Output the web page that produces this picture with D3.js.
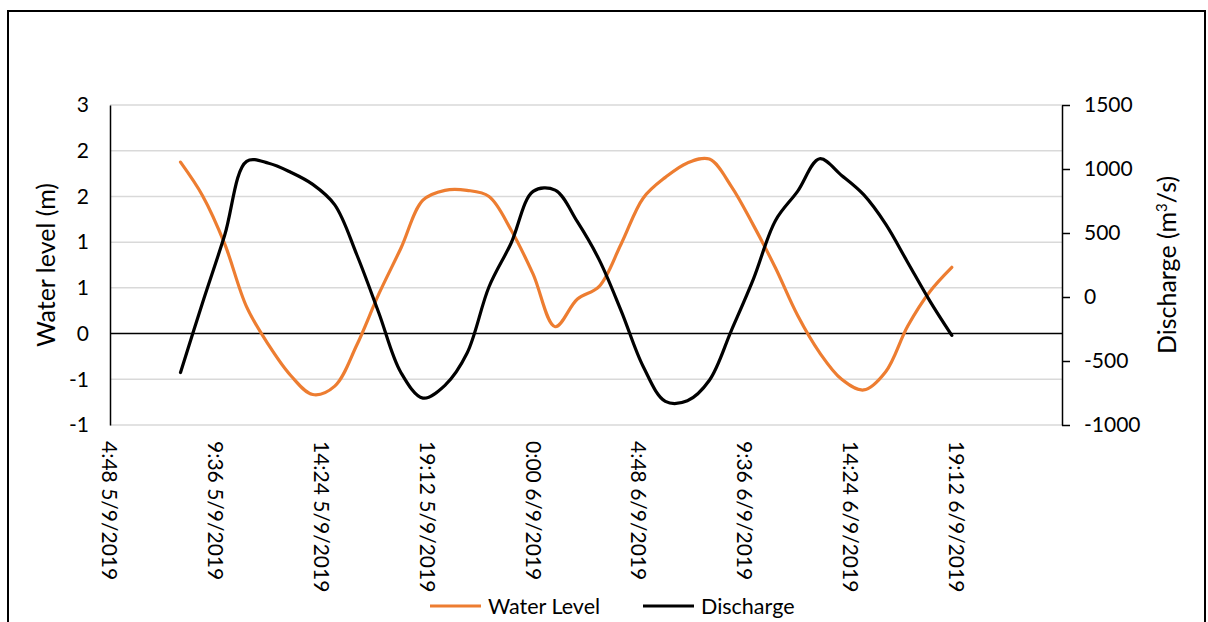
<!DOCTYPE html>
<html>
<head>
<meta charset="utf-8">
<script src="https://cdn.jsdelivr.net/npm/d3@7"></script>
<style>
  body { margin: 0; background: #fff; }
  svg text { font-family: Lato, "Open Sans", sans-serif; fill: #000; }
</style>
</head>
<body>
<svg id="chart" width="1208" height="622"></svg>
<script>
// hourly readings, 5/9/2019 08:00 to 6/9/2019 19:00
const times = [
    "05/09/2019 08:00", "05/09/2019 09:00", "05/09/2019 10:00", "05/09/2019 11:00",
    "05/09/2019 12:00", "05/09/2019 13:00", "05/09/2019 14:00", "05/09/2019 15:00",
    "05/09/2019 16:00", "05/09/2019 17:00", "05/09/2019 18:00", "05/09/2019 19:00",
    "05/09/2019 20:00", "05/09/2019 21:00", "05/09/2019 22:00", "05/09/2019 23:00",
    "06/09/2019 00:00", "06/09/2019 01:00", "06/09/2019 02:00", "06/09/2019 03:00",
    "06/09/2019 04:00", "06/09/2019 05:00", "06/09/2019 06:00", "06/09/2019 07:00",
    "06/09/2019 08:00", "06/09/2019 09:00", "06/09/2019 10:00", "06/09/2019 11:00",
    "06/09/2019 12:00", "06/09/2019 13:00", "06/09/2019 14:00", "06/09/2019 15:00",
    "06/09/2019 16:00", "06/09/2019 17:00", "06/09/2019 18:00", "06/09/2019 19:00"
];
const waterLevel = [
    2.25, 1.81, 1.18, 0.35, -0.15, -0.55, -0.80, -0.69,
    -0.15, 0.52, 1.12, 1.75, 1.88, 1.88, 1.80, 1.36,
    0.78, 0.09, 0.45, 0.62, 1.18, 1.78, 2.05, 2.24,
    2.29, 1.93, 1.42, 0.86, 0.24, -0.25, -0.60, -0.74,
    -0.50, 0.10, 0.55, 0.87
];
const discharge = [
    -590, -45, 480, 1060, 1045, 975, 880, 720,
    330, -125, -590, -790, -690, -440, 80, 420,
    825, 835, 590, 290, -110, -545, -815, -810,
    -650, -260, 142, 598, 825, 1080, 950, 800,
    570, 270, -30, -300
];

const xTickLabels = [
    "4:48 5/9/2019", "9:36 5/9/2019", "14:24 5/9/2019", "19:12 5/9/2019",
    "0:00 6/9/2019", "4:48 6/9/2019", "9:36 6/9/2019", "14:24 6/9/2019",
    "19:12 6/9/2019"
];
const xDomain = ["4:48 5/9/2019", "0:00 7/9/2019"];
const leftTicks = [-1.2, -0.6, 0, 0.6, 1.2, 1.8, 2.4, 3];
const rightTicks = [-1000, -500, 0, 500, 1000, 1500];

const ORANGE = "#ED7D31";
const GRID = "#d9d9d9";

// plot box
const plot = {left: 110, right: 1062, top: 105, bottom: 425};

const parseData = d3.timeParse("%d/%m/%Y %H:%M");
const parseTick = d3.timeParse("%H:%M %d/%m/%Y");

const data = times.map((t, i) => ({
    time: parseData(t),
    level: waterLevel[i],
    flow: discharge[i]
}));

// excel style "0" number format, plain hyphen for negatives
const fmtInt = function(d) {
    const r = Math.round(d);
    return r === 0 ? "0" : String(r);
};

const x = d3.scaleTime()
    .domain(xDomain.map(parseTick))
    .range([plot.left, plot.right]);
const yL = d3.scaleLinear().domain([-1.2, 3]).range([plot.bottom, plot.top]);
const yR = d3.scaleLinear().domain([-1000, 1500]).range([plot.bottom, plot.top]);

const svg = d3.select("#chart");

// outer frame
svg.append("rect")
    .attr("x", 8).attr("y", 11)
    .attr("width", 1197).attr("height", 640)
    .attr("fill", "none")
    .attr("stroke", "#000")
    .attr("stroke-width", 2);

// gridlines
svg.append("g")
    .selectAll("line")
    .data(leftTicks.filter(d => d !== 0))
    .enter()
    .append("line")
        .attr("x1", plot.left).attr("x2", plot.right)
        .attr("y1", d => yL(d)).attr("y2", d => yL(d))
        .attr("stroke", GRID)
        .attr("stroke-width", 1.5);

// left axis
const axisL = svg.append("g")
    .attr("transform", `translate(${plot.left},0)`)
    .call(d3.axisLeft(yL).tickValues(leftTicks).tickSize(0).tickPadding(21)
        .tickFormat(fmtInt));
axisL.select(".domain").attr("stroke", "#000").attr("stroke-width", 1.5);
axisL.selectAll("text").style("font-size", "21px");

// right axis
const axisR = svg.append("g")
    .attr("transform", `translate(${plot.right},0)`)
    .call(d3.axisRight(yR).tickValues(rightTicks).tickSize(8).tickSizeOuter(0)
        .tickPadding(14).tickFormat(fmtInt));
axisR.select(".domain").attr("stroke", "#000").attr("stroke-width", 1.5);
axisR.selectAll(".tick line").attr("stroke", "#000").attr("stroke-width", 1.5);
axisR.selectAll("text").style("font-size", "21px");

// horizontal axis at zero, labels low
svg.append("line")
    .attr("x1", plot.left).attr("x2", plot.right)
    .attr("y1", yL(0)).attr("y2", yL(0))
    .attr("stroke", "#000")
    .attr("stroke-width", 1.5);

svg.append("g")
    .selectAll("text")
    .data(xTickLabels)
    .enter()
    .append("text")
        .attr("transform", d => `translate(${x(parseTick(d))},441) rotate(90)`)
        .attr("dy", "0.36em")
        .style("font-size", "21px")
        .text(d => d);

// axis titles
svg.append("text")
    .attr("transform", `translate(46,${(plot.top + plot.bottom) / 2}) rotate(-90)`)
    .attr("text-anchor", "middle")
    .attr("dy", "0.36em")
    .style("font-size", "25px")
    .text("Water level (m)");

const rt = svg.append("text")
    .attr("transform", `translate(1167,${(plot.top + plot.bottom) / 2}) rotate(-90)`)
    .attr("text-anchor", "middle")
    .attr("dy", "0.36em")
    .style("font-size", "25px");
rt.append("tspan").text("Discharge (m");
rt.append("tspan").attr("baseline-shift", "super").style("font-size", "15px").text("3");
rt.append("tspan").text("/s)");

// series
const lineL = d3.line()
    .x(d => x(d.time))
    .y(d => yL(d.level))
    .curve(d3.curveCatmullRom.alpha(0.5));
const lineR = d3.line()
    .x(d => x(d.time))
    .y(d => yR(d.flow))
    .curve(d3.curveCatmullRom.alpha(0.5));

svg.append("path")
    .datum(data)
    .attr("d", lineL)
    .attr("fill", "none")
    .attr("stroke", ORANGE)
    .attr("stroke-width", 3.2)
    .attr("stroke-linecap", "round");

svg.append("path")
    .datum(data)
    .attr("d", lineR)
    .attr("fill", "none")
    .attr("stroke", "#000")
    .attr("stroke-width", 3.2)
    .attr("stroke-linecap", "round");

// legend
const legendItems = [
    {name: "Water Level", color: ORANGE, x: 430},
    {name: "Discharge", color: "#000", x: 643}
];
const legend = svg.append("g");
legendItems.forEach(l => {
    legend.append("line")
        .attr("x1", l.x).attr("x2", l.x + 51)
        .attr("y1", 606).attr("y2", 606)
        .attr("stroke", l.color)
        .attr("stroke-width", 3.2);
    legend.append("text")
        .attr("x", l.x + 58).attr("y", 606)
        .attr("dy", "0.36em")
        .style("font-size", "21.5px")
        .text(l.name);
});
</script>
</body>
</html>
